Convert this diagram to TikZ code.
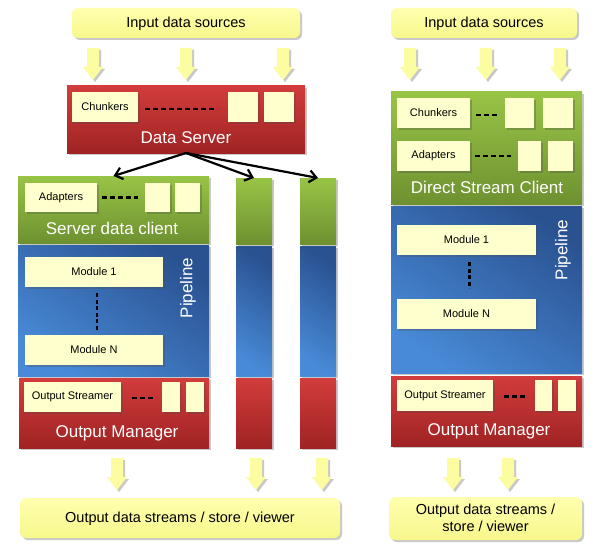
\documentclass[tikz,border=0pt]{standalone}
\usepackage{fontspec}
\setmainfont{Liberation Sans}
\usetikzlibrary{shadows,arrows.meta}
\definecolor{ytop}{RGB}{255,255,175}
\definecolor{ybot}{RGB}{247,247,140}
\definecolor{yarr}{RGB}{252,252,160}
\definecolor{rtop}{RGB}{210,60,60}
\definecolor{rbot}{RGB}{160,35,35}
\definecolor{gtop}{RGB}{152,196,70}
\definecolor{gbot}{RGB}{110,145,48}
\definecolor{btop}{RGB}{42,82,145}
\definecolor{bbot}{RGB}{72,138,215}
\definecolor{creamc}{RGB}{255,255,205}
\tikzset{
  every node/.style={inner sep=0pt, outer sep=0pt},
  shadowed/.style={drop shadow={shadow xshift=2pt, shadow yshift=-2pt, opacity=0.3, fill=black!70}},
  ybox/.style={rounded corners=6pt, top color=ytop, bottom color=ybot, shadowed, font=\fontsize{14.5}{17.5}\selectfont, align=center, text depth=2pt},
  redbox/.style={top color=rtop, bottom color=rbot, shadowed},
  greenbox/.style={top color=gtop, bottom color=gbot, shadowed},
  bluebox/.style={top color=btop, bottom color=bbot, shading angle=-35, shadowed},
  cream/.style={fill=creamc, shadowed, font=\fontsize{11}{13}\selectfont},
  wtext/.style={text=white, font=\fontsize{17}{20}\selectfont},
  dashline/.style={line width=2.5pt, dash pattern=on 5pt off 3pt},
  vdash/.style={line width=2.5pt, dash pattern=on 4pt off 2.5pt},
  conn/.style={line width=2.2pt, -{Straight Barb[length=7pt,width=12pt]}},
  yarrowst/.style={fill=yarr, shadowed}
}
\newcommand{\yarr}[2]{\fill[yarrowst, shift={(#1,#2)}] (-6,0) -- (6,0) -- (6,19) -- (10,19) -- (0,32) -- (-10,19) -- (-6,19) -- cycle;}
\begin{document}
\begin{tikzpicture}[x=1pt,y=-1pt]
\fill[white] (0,0) rectangle (600,551);
\useasboundingbox (0,0) rectangle (600,551);

% ===== Left part =====
\node[ybox, minimum width=228pt, minimum height=30pt, anchor=north west] (in1) at (72,8) {Input data sources};
\yarr{93}{48}\yarr{186}{48}\yarr{283}{48}

\node[redbox, minimum width=238pt, minimum height=67pt, anchor=north west] (ds) at (67,86) {};
\node[cream, minimum width=66pt, minimum height=30pt, anchor=north west] (chunk1) at (72,92) {Chunkers};
\node[cream, minimum width=30pt, minimum height=30pt, anchor=north west] (csqa) at (228,92) {};
\node[cream, minimum width=30pt, minimum height=30pt, anchor=north west] (csqb) at (264,92) {};
\draw[dashline] ([xshift=7pt,yshift=-2pt]chunk1.east) -- ([xshift=-11pt,yshift=-2pt]csqa.west);
\node[wtext] (dst) at (186,138) {Data Server};

\node[greenbox, minimum width=191pt, minimum height=67pt, anchor=north west] (sdc) at (18,176) {};
\node[cream, minimum width=72pt, minimum height=29pt, anchor=north west] (adap1) at (25,183) {Adapters};
\node[cream, minimum width=25pt, minimum height=29pt, anchor=north west] (asqa) at (145,183) {};
\node[cream, minimum width=25pt, minimum height=29pt, anchor=north west] (asqb) at (175,183) {};
\draw[dashline] ([xshift=5pt]adap1.east) -- ([xshift=-7pt]asqa.west);
\node[wtext] (sdct) at (112,228) {Server data client};

\node[bluebox, minimum width=191pt, minimum height=131pt, anchor=north west] (pipe1) at (18,245) {};
\node[cream, minimum width=138pt, minimum height=30pt, anchor=north west] (mod1a) at (25,257) {Module 1};
\node[cream, minimum width=138pt, minimum height=30pt, anchor=north west] (modNa) at (25,335) {Module N};
\draw[vdash] ([xshift=3pt,yshift=-6pt]mod1a.south) -- ([xshift=3pt,yshift=5pt]modNa.north);
\node[wtext, rotate=90] (pipe1t) at (188,288) {Pipeline};

\node[redbox, minimum width=190pt, minimum height=70pt, anchor=north west] (om1) at (19,378) {};
\node[cream, minimum width=97pt, minimum height=30pt, anchor=north west] (os1) at (24,382) {Output Streamer};
\node[cream, minimum width=18pt, minimum height=30pt, anchor=north west] (osqa) at (162,382) {};
\node[cream, minimum width=18pt, minimum height=30pt, anchor=north west] (osqb) at (186,382) {};
\draw[dashline] ([xshift=11pt,yshift=-1pt]os1.east) -- ([xshift=-7pt,yshift=-1pt]osqa.west);
\node[wtext] (om1t) at (117,433) {Output Manager};

% ===== Middle columns =====
\node[greenbox, minimum width=36pt, minimum height=66pt, anchor=north west] (c1g) at (236,178) {};
\node[bluebox, minimum width=36pt, minimum height=130pt, anchor=north west] (c1b) at (236,246) {};
\node[redbox, minimum width=36pt, minimum height=70pt, anchor=north west] (c1r) at (236,378) {};
\node[greenbox, minimum width=36pt, minimum height=66pt, anchor=north west] (c2g) at (300,178) {};
\node[bluebox, minimum width=36pt, minimum height=130pt, anchor=north west] (c2b) at (300,246) {};
\node[redbox, minimum width=36pt, minimum height=70pt, anchor=north west] (c2r) at (300,378) {};

\draw[conn] (ds.south) -- (sdc.north);
\draw[conn] (ds.south) -- (c1g.north);
\draw[conn] (ds.south) -- (c2g.north);

\yarr{117}{458}\yarr{256}{458}\yarr{322}{458}
\node[ybox, minimum width=320pt, minimum height=40pt, anchor=north west] (out1) at (20,498) {Output data streams / store / viewer};

% ===== Right part =====
\node[ybox, minimum width=186pt, minimum height=30pt, anchor=north west] (in2) at (391,8) {Input data sources};
\yarr{410}{48}\yarr{486}{48}\yarr{560}{48}

\node[greenbox, minimum width=191pt, minimum height=112pt, anchor=north west] (dsc) at (391,92) {};
\node[cream, minimum width=73pt, minimum height=30pt, anchor=north west] (chunk2) at (397,98) {Chunkers};
\node[cream, minimum width=29pt, minimum height=30pt, anchor=north west] (c2sqa) at (505,98) {};
\node[cream, minimum width=30pt, minimum height=30pt, anchor=north west] (c2sqb) at (543,98) {};
\draw[dashline] ([xshift=6pt,yshift=-2pt]chunk2.east) -- ([xshift=-7pt,yshift=-2pt]c2sqa.west);
\node[cream, minimum width=73pt, minimum height=30pt, anchor=north west] (adap2) at (397,141) {Adapters};
\node[cream, minimum width=23pt, minimum height=30pt, anchor=north west] (a2sqa) at (518,141) {};
\node[cream, minimum width=25pt, minimum height=30pt, anchor=north west] (a2sqb) at (548,141) {};
\draw[dashline] ([xshift=5pt]adap2.east) -- ([xshift=-7pt]a2sqa.west);
\node[wtext] (dsct) at (487,187) {Direct Stream Client};

\node[bluebox, minimum width=191pt, minimum height=167pt, anchor=north west] (pipe2) at (391,206) {};
\node[cream, minimum width=139pt, minimum height=30pt, anchor=north west] (mod1b) at (397,225) {Module 1};
\node[cream, minimum width=139pt, minimum height=30pt, anchor=north west] (modNb) at (397,299) {Module N};
\draw[vdash] ([xshift=3pt,yshift=-7pt]mod1b.south) -- ([xshift=3pt,yshift=11pt]modNb.north);
\node[wtext, rotate=90] (pipe2t) at (563,250) {Pipeline};

\node[redbox, minimum width=191pt, minimum height=70pt, anchor=north west] (om2) at (391,376) {};
\node[cream, minimum width=96pt, minimum height=31pt, anchor=north west] (os2) at (397,380) {Output Streamer};
\node[cream, minimum width=17pt, minimum height=31pt, anchor=north west] (o2sqa) at (535,380) {};
\node[cream, minimum width=18pt, minimum height=31pt, anchor=north west] (o2sqb) at (558,380) {};
\draw[dashline] ([xshift=11pt,yshift=-1pt]os2.east) -- ([xshift=-9pt,yshift=-1pt]o2sqa.west);
\node[wtext] (om2t) at (489,431) {Output Manager};

\yarr{453}{458}\yarr{508}{458}
\node[ybox, minimum width=193pt, minimum height=43pt, anchor=north west] (out2) at (389,497) {Output data streams /\\store / viewer};
\end{tikzpicture}
\end{document}
